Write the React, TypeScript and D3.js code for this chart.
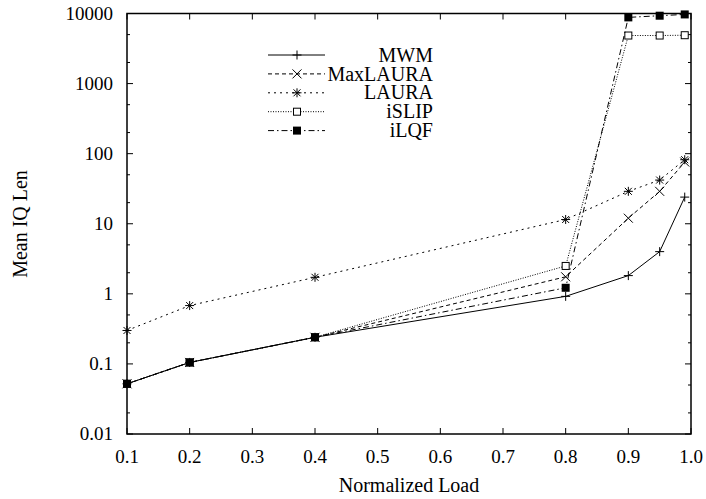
import React from "react";
import * as d3 from "d3";

const loads = [0.1, 0.2, 0.4, 0.8, 0.9, 0.95, 0.99];
const mwm = [0.052, 0.105, 0.24, 0.92, 1.82, 4.0, 24];
const maxLaura = [0.052, 0.105, 0.24, 1.75, 12, 29, 76];
const laura = [0.3, 0.68, 1.72, 11.5, 29, 42, 82];
const islip = [0.052, 0.105, 0.24, 2.5, 4850, 4850, 4900];
const ilqf = [0.052, 0.105, 0.24, 1.22, 8800, 9300, 9700];

const xTicks = [0.1, 0.2, 0.3, 0.4, 0.5, 0.6, 0.7, 0.8, 0.9, 1.0];
const yTicks = [0.01, 0.1, 1, 10, 100, 1000, 10000];
const yTickLabels = ["0.01", "0.1", "1", "10", "100", "1000", "10000"];

const series = [
  { name: "MWM", values: mwm, dash: "none", marker: "plus" },
  { name: "MaxLAURA", values: maxLaura, dash: "4,3", marker: "cross" },
  { name: "LAURA", values: laura, dash: "2,4", marker: "star" },
  { name: "iSLIP", values: islip, dash: "1,1.5", marker: "box" },
  { name: "iLQF", values: ilqf, dash: "6,3,1.5,3", marker: "filled" },
];

const FONT = "Liberation Serif, Times New Roman, Times, serif";

function Marker({ type, x, y }: { type: string; x: number; y: number }) {
  const s = 4.5;
  if (type === "plus")
    return <path d={`M${x - s},${y}H${x + s}M${x},${y - s}V${y + s}`} stroke="#000" strokeWidth={1} />;
  if (type === "cross")
    return <path d={`M${x - s},${y - s}L${x + s},${y + s}M${x - s},${y + s}L${x + s},${y - s}`} stroke="#000" strokeWidth={1} />;
  if (type === "star")
    return (
      <path
        d={`M${x - s},${y}H${x + s}M${x},${y - s}V${y + s}M${x - 3.5},${y - 3.5}L${x + 3.5},${y + 3.5}M${x - 3.5},${y + 3.5}L${x + 3.5},${y - 3.5}`}
        stroke="#000"
        strokeWidth={1}
      />
    );
  if (type === "box")
    return <rect x={x - 3.5} y={y - 3.5} width={7} height={7} fill="#fff" stroke="#000" strokeWidth={1} />;
  return <rect x={x - 4} y={y - 4} width={8} height={8} fill="#000" />;
}

export default function App() {
  const width = 706;
  const height = 499;
  const left = 127;
  const right = 691;
  const top = 13.5;
  const bottom = 434;

  const x = d3.scaleLinear().domain([0.1, 1.0]).range([left, right]);
  const y = d3.scaleLog().domain([0.01, 10000]).range([bottom, top]);

  // minor ticks at 2 and 5 of every decade
  const minor: number[] = [];
  for (let e = -2; e < 4; e++) {
    minor.push(2 * Math.pow(10, e), 5 * Math.pow(10, e));
  }

  const line = d3
    .line<number>()
    .x((_, i) => x(loads[i]))
    .y((d) => y(d));

  return (
    <svg
      width={width}
      height={height}
      style={{ position: "absolute", left: 0, top: 0, background: "#fff", fontFamily: FONT }}
    >
      <g stroke="#000" strokeWidth={1}>
        {xTicks.map((t) => (
          <g key={"x" + t}>
            <line x1={x(t)} x2={x(t)} y1={bottom} y2={bottom - 6} />
            <line x1={x(t)} x2={x(t)} y1={top} y2={top + 6} />
          </g>
        ))}
        {yTicks.map((t) => (
          <g key={"y" + t}>
            <line x1={left} x2={left + 6} y1={y(t)} y2={y(t)} />
            <line x1={right} x2={right - 6} y1={y(t)} y2={y(t)} />
          </g>
        ))}
        {minor.map((t) => (
          <g key={"m" + t}>
            <line x1={left} x2={left + 3} y1={y(t)} y2={y(t)} />
            <line x1={right} x2={right - 3} y1={y(t)} y2={y(t)} />
          </g>
        ))}
      </g>
      <rect
        x={left}
        y={top}
        width={right - left}
        height={bottom - top}
        fill="none"
        stroke="#000"
        strokeWidth={1.5}
      />
      <g fontSize={19} fill="#000">
        {xTicks.map((t) => (
          <text key={"xl" + t} x={x(t)} y={463} textAnchor="middle">
            {t.toFixed(1)}
          </text>
        ))}
        {yTicks.map((t, i) => (
          <text key={"yl" + t} x={left - 14} y={y(t)} dy="0.33em" textAnchor="end">
            {yTickLabels[i]}
          </text>
        ))}
      </g>
      <text x={(left + right) / 2} y={492} textAnchor="middle" fontSize={20}>
        Normalized Load
      </text>
      <text transform={`translate(27,224) rotate(-90)`} textAnchor="middle" fontSize={20}>
        Mean IQ Len
      </text>

      {series.map((s) => (
        <g key={s.name}>
          <path d={line(s.values) || ""} fill="none" stroke="#000" strokeWidth={1} strokeDasharray={s.dash} />
          {s.values.map((v, i) => (
            <Marker key={i} type={s.marker} x={x(loads[i])} y={y(v)} />
          ))}
        </g>
      ))}

      {series.map((s, i) => {
        const ly = 55 + i * 18.9;
        return (
          <g key={"lg" + s.name}>
            <line x1={268} x2={325} y1={ly} y2={ly} stroke="#000" strokeWidth={1} strokeDasharray={s.dash} />
            <Marker type={s.marker} x={297} y={ly} />
            <text x={433} y={ly} dy="0.33em" textAnchor="end" fontSize={20}>
              {s.name}
            </text>
          </g>
        );
      })}
    </svg>
  );
}
